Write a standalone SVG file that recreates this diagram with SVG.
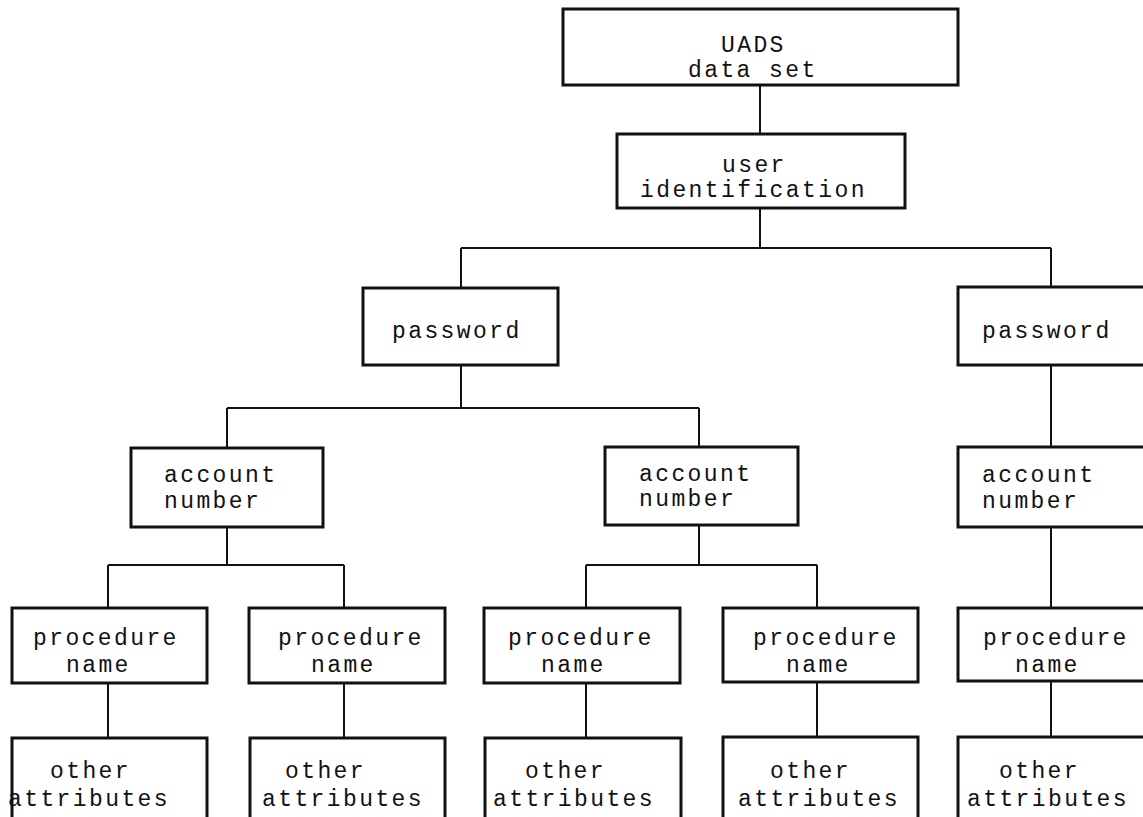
<svg xmlns="http://www.w3.org/2000/svg" width="1143" height="817" viewBox="0 0 1143 817">
<style>
.box{fill:#fff;stroke:#111;stroke-width:3}
.c line{stroke:#111;stroke-width:2;fill:none}
text{font-family:"Liberation Mono","DejaVu Sans Mono",monospace;font-size:23px;letter-spacing:2.4px;fill:#111}
</style>
<rect width="1143" height="817" fill="#fff"/>
<g class="c" id="connectors">
<line x1="760" y1="85" x2="760" y2="134"/>
<line x1="760" y1="208" x2="760" y2="248"/>
<line x1="461" y1="248" x2="1051" y2="248"/>
<line x1="461" y1="248" x2="461" y2="288"/>
<line x1="1051" y1="248" x2="1051" y2="287"/>
<line x1="461" y1="365" x2="461" y2="408"/>
<line x1="227" y1="408" x2="699" y2="408"/>
<line x1="227" y1="408" x2="227" y2="448"/>
<line x1="699" y1="408" x2="699" y2="447"/>
<line x1="1051" y1="365" x2="1051" y2="447"/>
<line x1="227" y1="527" x2="227" y2="565"/>
<line x1="108" y1="565" x2="344" y2="565"/>
<line x1="108" y1="565" x2="108" y2="608"/>
<line x1="344" y1="565" x2="344" y2="608"/>
<line x1="699" y1="525" x2="699" y2="565"/>
<line x1="586" y1="565" x2="817" y2="565"/>
<line x1="586" y1="565" x2="586" y2="608"/>
<line x1="817" y1="565" x2="817" y2="608"/>
<line x1="1051" y1="527" x2="1051" y2="608"/>
<line x1="108" y1="683" x2="108" y2="738"/>
<line x1="344" y1="683" x2="344" y2="738"/>
<line x1="586" y1="683" x2="586" y2="738"/>
<line x1="817" y1="682" x2="817" y2="737"/>
<line x1="1051" y1="681" x2="1051" y2="737"/>
</g>
<g id="uads"><rect class="box" x="563" y="9" width="395" height="76"/><text x="721" y="52">UADS</text><text x="688" y="77">data set</text></g>
<g id="userid"><rect class="box" x="617" y="134" width="288" height="74"/><text x="722" y="172">user</text><text x="640" y="197">identification</text></g>
<g id="pwd1"><rect class="box" x="363" y="288" width="195" height="77"/><text x="392" y="338">password</text></g>
<g id="pwd2"><rect class="box" x="958" y="287" width="200" height="78"/><text x="982" y="338">password</text></g>
<g id="acct1"><rect class="box" x="131" y="448" width="192" height="79"/><text x="164" y="482">account</text><text x="164" y="508">number</text></g>
<g id="acct2"><rect class="box" x="605" y="447" width="193" height="78"/><text x="639" y="481">account</text><text x="639" y="506">number</text></g>
<g id="acct3"><rect class="box" x="958" y="447" width="200" height="80"/><text x="982" y="482">account</text><text x="982" y="508">number</text></g>
<g id="proc1"><rect class="box" x="12" y="608" width="195" height="75"/><text x="33" y="645">procedure</text><text x="66" y="672">name</text></g>
<g id="proc2"><rect class="box" x="249" y="608" width="196" height="75"/><text x="278" y="645">procedure</text><text x="311" y="672">name</text></g>
<g id="proc3"><rect class="box" x="484" y="608" width="196" height="75"/><text x="508" y="645">procedure</text><text x="541" y="672">name</text></g>
<g id="proc4"><rect class="box" x="723" y="608" width="195" height="74"/><text x="753" y="645">procedure</text><text x="786" y="672">name</text></g>
<g id="proc5"><rect class="box" x="958" y="608" width="200" height="73"/><text x="983" y="645">procedure</text><text x="1015" y="672">name</text></g>
<g id="attr1"><rect class="box" x="12" y="738" width="195" height="100"/><text x="50" y="778">other</text><text x="8" y="806">attributes</text></g>
<g id="attr2"><rect class="box" x="250" y="738" width="195" height="100"/><text x="285" y="778">other</text><text x="262" y="806">attributes</text></g>
<g id="attr3"><rect class="box" x="485" y="738" width="196" height="100"/><text x="525" y="778">other</text><text x="493" y="806">attributes</text></g>
<g id="attr4"><rect class="box" x="723" y="737" width="195" height="100"/><text x="770" y="778">other</text><text x="738" y="806">attributes</text></g>
<g id="attr5"><rect class="box" x="958" y="737" width="200" height="100"/><text x="999" y="778">other</text><text x="967" y="806">attributes</text></g>
</svg>
